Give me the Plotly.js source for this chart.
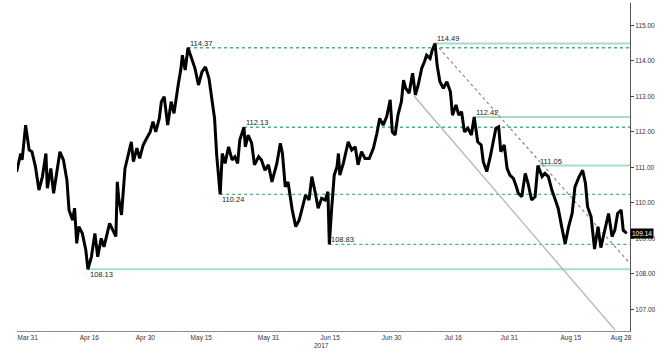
<!DOCTYPE html>
<html>
<head>
<meta charset="utf-8">
<script src="https://cdn.plot.ly/plotly-3.0.1.min.js"></script>
<style>
html,body{margin:0;padding:0;background:#fff;}
#chart{width:663px;height:354px;}
</style>
</head>
<body>
<div id="chart"></div>
<script>
// USD/JPY price path
const priceDates = [
"2017-03-29 00:00","2017-03-29 18:00","2017-03-30 00:00","2017-03-30 15:00","2017-03-31 06:00","2017-03-31 18:00",
"2017-04-03 09:00","2017-04-04 00:00","2017-04-04 15:00","2017-04-05 06:00","2017-04-05 12:00","2017-04-06 03:00",
"2017-04-06 15:00","2017-04-07 03:00","2017-04-07 18:00","2017-04-10 09:00","2017-04-11 00:00","2017-04-11 09:00",
"2017-04-12 00:00","2017-04-12 09:00","2017-04-12 18:00","2017-04-13 03:00","2017-04-13 18:00","2017-04-14 09:00",
"2017-04-14 18:00","2017-04-17 09:00","2017-04-18 00:00","2017-04-18 12:00","2017-04-19 03:00","2017-04-19 15:00",
"2017-04-20 03:00","2017-04-20 15:00","2017-04-21 18:00","2017-04-24 00:00","2017-04-24 06:00","2017-04-24 18:00",
"2017-04-25 09:00","2017-04-26 00:00","2017-04-26 12:00","2017-04-26 21:00","2017-04-27 12:00","2017-04-28 00:00",
"2017-04-28 15:00","2017-05-01 06:00","2017-05-01 21:00","2017-05-02 09:00","2017-05-02 21:00","2017-05-03 12:00",
"2017-05-03 21:00","2017-05-04 09:00","2017-05-05 00:00","2017-05-05 15:00","2017-05-08 03:00","2017-05-08 21:00",
"2017-05-09 09:00","2017-05-09 15:00","2017-05-10 03:00","2017-05-10 15:00","2017-05-11 06:00","2017-05-11 21:00",
"2017-05-12 12:00","2017-05-15 03:00","2017-05-15 18:00","2017-05-16 09:00","2017-05-16 21:00","2017-05-17 09:00",
"2017-05-17 18:00","2017-05-18 09:00","2017-05-18 18:00","2017-05-19 06:00","2017-05-19 21:00","2017-05-22 12:00",
"2017-05-23 00:00","2017-05-23 12:00","2017-05-23 21:00","2017-05-24 15:00","2017-05-24 21:00","2017-05-25 09:00",
"2017-05-26 00:00","2017-05-26 12:00","2017-05-29 06:00","2017-05-29 18:00","2017-05-30 09:00","2017-05-31 00:00",
"2017-05-31 15:00","2017-06-01 12:00","2017-06-02 03:00","2017-06-02 12:00","2017-06-05 00:00","2017-06-05 12:00",
"2017-06-06 06:00","2017-06-06 21:00","2017-06-07 12:00","2017-06-08 00:00","2017-06-08 15:00","2017-06-09 06:00",
"2017-06-09 18:00","2017-06-12 09:00","2017-06-12 21:00","2017-06-13 12:00","2017-06-14 03:00","2017-06-14 15:00",
"2017-06-14 21:00","2017-06-15 06:00","2017-06-15 18:00","2017-06-16 06:00","2017-06-16 12:00","2017-06-16 18:00",
"2017-06-19 09:00","2017-06-20 06:00","2017-06-20 21:00","2017-06-21 12:00","2017-06-22 00:00","2017-06-22 15:00",
"2017-06-23 06:00","2017-06-26 00:00","2017-06-26 18:00","2017-06-27 09:00","2017-06-27 21:00","2017-06-28 12:00",
"2017-06-29 03:00","2017-06-29 18:00","2017-06-30 03:00","2017-06-30 15:00","2017-07-03 03:00","2017-07-03 18:00",
"2017-07-04 03:00","2017-07-04 12:00","2017-07-05 03:00","2017-07-05 18:00","2017-07-06 06:00","2017-07-06 18:00",
"2017-07-07 09:00","2017-07-07 21:00","2017-07-10 06:00","2017-07-10 21:00","2017-07-11 06:00","2017-07-11 18:00",
"2017-07-12 03:00","2017-07-12 15:00","2017-07-13 06:00","2017-07-13 21:00","2017-07-14 12:00","2017-07-14 21:00",
"2017-07-17 12:00","2017-07-18 00:00","2017-07-18 12:00","2017-07-19 00:00","2017-07-19 15:00","2017-07-20 06:00",
"2017-07-20 18:00","2017-07-21 09:00","2017-07-24 00:00","2017-07-24 09:00","2017-07-25 00:00","2017-07-25 15:00",
"2017-07-26 00:00","2017-07-26 15:00","2017-07-27 03:00","2017-07-27 12:00","2017-07-28 03:00","2017-07-28 15:00",
"2017-07-31 03:00","2017-07-31 18:00","2017-08-01 09:00","2017-08-01 15:00","2017-08-02 06:00","2017-08-02 21:00",
"2017-08-03 09:00","2017-08-04 00:00","2017-08-04 15:00","2017-08-07 03:00","2017-08-07 21:00","2017-08-08 09:00",
"2017-08-09 00:00","2017-08-09 15:00","2017-08-10 06:00","2017-08-10 18:00","2017-08-11 09:00","2017-08-14 00:00",
"2017-08-14 15:00","2017-08-15 06:00","2017-08-15 18:00","2017-08-16 12:00","2017-08-17 03:00","2017-08-17 15:00",
"2017-08-18 00:00","2017-08-18 15:00","2017-08-21 06:00","2017-08-21 21:00","2017-08-22 09:00","2017-08-23 00:00",
"2017-08-23 18:00","2017-08-24 09:00","2017-08-24 21:00","2017-08-25 09:00","2017-08-28 00:00","2017-08-28 09:00",
"2017-08-29 00:00"
];
const priceValues = [
110.87,111.39,111.21,112.19,111.49,111.44,
111.02,110.36,110.74,111.39,110.41,110.97,
110.27,110.83,111.44,111.21,110.64,109.80,
109.52,109.85,108.86,109.33,109.14,108.67,
108.13,108.48,109.14,108.48,109.00,108.76,
109.09,109.42,109.05,110.59,110.13,109.66,
110.97,111.35,111.72,111.16,111.54,111.25,
111.63,111.82,112.00,112.29,112.00,112.38,
112.85,112.99,112.19,112.85,112.52,113.32,
113.79,114.16,113.74,114.37,114.07,113.79,
113.32,113.69,113.83,113.51,112.94,112.38,
111.35,110.24,111.39,111.11,111.58,111.21,
111.30,111.11,111.77,112.13,111.58,111.91,
111.68,111.07,111.30,111.21,110.92,111.07,
110.59,111.11,111.68,111.39,110.45,110.59,
109.80,109.33,109.52,109.80,110.22,110.08,
110.74,110.27,109.85,110.13,110.08,110.31,
108.83,109.75,110.78,111.02,111.39,110.78,
111.11,111.72,111.49,111.58,111.07,111.44,
111.25,111.25,111.54,111.96,112.38,112.19,
112.43,112.90,112.00,111.91,112.47,112.85,
113.46,113.23,113.09,113.65,113.04,113.32,
113.79,113.98,114.16,114.07,114.30,114.49,
113.88,113.41,113.23,113.41,113.13,112.47,
112.76,112.47,112.57,112.00,112.10,111.91,
112.42,111.72,111.63,111.16,110.88,111.30,
111.58,112.10,112.14,111.44,111.63,110.97,
110.78,110.69,110.41,110.27,110.17,110.83,
110.55,110.08,110.17,111.05,110.74,110.83,
110.74,110.36,110.08,109.85,109.33,108.85,
109.33,109.70,110.45,110.74,110.92,110.55,
109.89,109.61,108.70,109.33,108.74,109.14,
109.70,109.05,109.23,109.70,109.80,109.23,
109.14
];
const lastPrice = 109.14;

// Support / resistance levels
const levelValues = [114.49, 114.37, 112.42, 112.13, 111.05, 110.24, 108.83, 108.13];
const levelStart  = ["2017-07-11 18:00","2017-05-10 15:00","2017-07-20 18:00","2017-05-24 15:00",
                     "2017-08-07 03:00","2017-05-18 09:00","2017-06-14 21:00","2017-04-14 18:00"];
const levelSolid  = [true, false, true, false, true, false, false, true];
const levelLabelBelow = [false, false, false, false, false, true, false, true];

// Trend lines
const trendSolidDates = ["2017-07-06 00:00", "2017-08-24 22:00"];
const trendSolidValues = [113.01, 106.42];
const trendDotDates = ["2017-07-11 18:00", "2017-08-29 06:00"];
const trendDotValues = [114.49, 108.35];

// Axis
const xRange = ["2017-03-29 02:00", "2017-08-29 14:00"];
const yRange = [106.39, 115.63];
const xTickVals = ["2017-03-31","2017-04-17","2017-05-01","2017-05-15","2017-05-31","2017-06-15",
                   "2017-06-30","2017-07-17","2017-07-31","2017-08-15","2017-08-28"];
const xTickText = ["Mar 31","Apr 16","Apr 30","May 15","May 31","Jun 15","Jun 30","Jul 16","Jul 31","Aug 15","Aug 28"];
const yTickVals = [107,108,109,110,111,112,113,114,115];
const yearLabel = "2017";

const FONT = "Liberation Sans, Arial, sans-serif";
const traces = [];
const annotations = [];

levelValues.forEach((v, i) => {
  traces.push({
    type: "scatter", mode: "lines",
    x: [levelStart[i], xRange[1]], y: [v, v],
    line: levelSolid[i] ? {color: "#a9dcc7", width: 2} : {color: "#44b08c", width: 1.3, dash: "3px,3px"},
    hoverinfo: "skip"
  });
  annotations.push({
    x: levelStart[i], y: v, xref: "x", yref: "y",
    text: v.toFixed(2), showarrow: false,
    xanchor: "left", yanchor: levelLabelBelow[i] ? "top" : "bottom",
    yshift: levelLabelBelow[i] ? 1 : -2,
    font: {family: FONT, size: 7.5, color: "#222"}
  });
});

traces.push({
  type: "scatter", mode: "lines", x: trendSolidDates, y: trendSolidValues,
  line: {color: "#a3b3c2", width: 1.2}, hoverinfo: "skip"
});
traces.push({
  type: "scatter", mode: "lines", x: trendDotDates, y: trendDotValues,
  line: {color: "#8a8a8a", width: 1.2, dash: "dot"}, hoverinfo: "skip"
});

traces.push({
  type: "scatter", mode: "lines", x: priceDates, y: priceValues,
  line: {color: "#000", width: 3}, hoverinfo: "skip"
});

annotations.push({
  x: 1, xref: "paper", y: lastPrice, yref: "y",
  text: lastPrice.toFixed(2), showarrow: false, xanchor: "left", yanchor: "middle",
  bgcolor: "#000", borderpad: 1,
  font: {family: FONT, size: 6.5, color: "#fff"}
});
annotations.push({
  x: 0.496, xref: "paper", y: -0.043, yref: "paper",
  text: yearLabel, showarrow: false, xanchor: "center", yanchor: "middle",
  font: {family: FONT, size: 6.5, color: "#333"}
});

const layout = {
  width: 663, height: 354,
  margin: {l: 17, r: 33, t: 3, b: 23},
  paper_bgcolor: "#fff", plot_bgcolor: "#fff",
  showlegend: false, hovermode: false,
  xaxis: {
    type: "date", range: xRange,
    rangebreaks: [{bounds: ["sat", "mon"]}],
    tickmode: "array", tickvals: xTickVals, ticktext: xTickText,
    ticks: "", showgrid: false, zeroline: false,
    showline: true, linecolor: "#8c8c8c", linewidth: 1,
    tickfont: {family: FONT, size: 6.5, color: "#333"}
  },
  yaxis: {
    side: "right", range: yRange,
    tickmode: "array", tickvals: yTickVals, tickformat: ".2f",
    ticks: "outside", ticklen: 3, tickcolor: "#444",
    showgrid: false, zeroline: false,
    showline: true, linecolor: "#555", linewidth: 1,
    tickfont: {family: FONT, size: 6.5, color: "#333"}
  },
  annotations: annotations
};

Plotly.newPlot("chart", traces, layout, {staticPlot: true, displayModeBar: false});
</script>
</body>
</html>
